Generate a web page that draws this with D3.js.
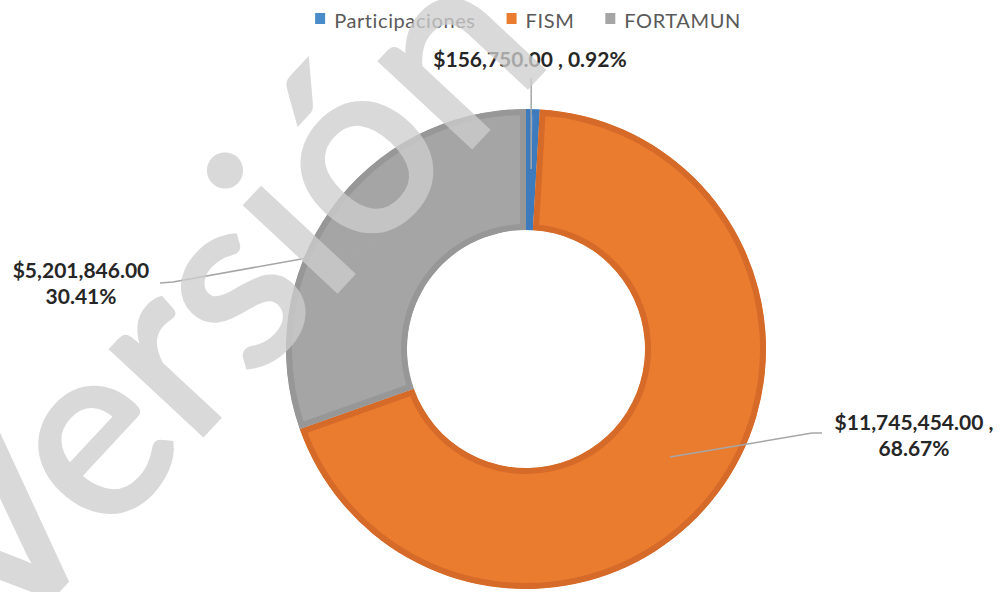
<!DOCTYPE html>
<html>
<head>
<meta charset="utf-8">
<script src="https://cdn.jsdelivr.net/npm/d3@7"></script>
<style>
  body { margin: 0; background: #fff; }
  svg { display: block; }
</style>
</head>
<body>
<svg id="chart" width="1002" height="592"></svg>
<script>
// data
const categories = ["Participaciones", "FISM", "FORTAMUN"];
const values = [156750.00, 11745454.00, 5201846.00];
const fills = ["#4a8bca", "#ea7c30", "#a5a5a5"];
const borders = ["#3d7bbd", "#d56a29", "#979797"];
const watermark = "Versión Pública";

const w = 1002, h = 592;
const cx = 526, cy = 349;
const outerR = 240, innerR = 119, leaderR = 180;

const svg = d3.select("#chart");
const total = d3.sum(values);
const money = v => "$" + d3.format(",.2f")(v);
const pct = d3.format(".2%");

// label lines and where they sit relative to the slice
let labelText = [
    (v) => [money(v) + " , " + pct(v / total)],
    (v) => [money(v) + " ,", pct(v / total)],
    (v) => [money(v), pct(v / total)]
];
let labelPos = [
    { x: 530, y: 67, leader: (p) => [p, [p[0], 78]] },
    { x: 914, y: 430, leader: (p) => [p, [812, 433], [822, 433]] },
    { x: 81, y: 278, leader: (p) => [p, [173, 282], [160, 283]] }
];

const pie = d3.pie().sort(null).value(d => d)(values);
const arc = d3.arc().innerRadius(innerR).outerRadius(outerR);

const g = svg.append("g").attr("transform", `translate(${cx},${cy})`);
const defs = svg.append("defs");

pie.forEach(function (d, i) {
    defs.append("clipPath")
        .attr("id", "clip" + i)
        .append("path")
        .attr("d", arc(d));
});

// slices, border drawn as clipped stroke so it sits inside the slice
g.selectAll("path.slice")
    .data(pie)
    .enter()
    .append("path")
    .attr("class", "slice")
    .attr("d", arc)
    .attr("fill", (d, i) => fills[i])
    .attr("stroke", (d, i) => borders[i])
    .attr("stroke-width", 12)
    .attr("clip-path", (d, i) => "url(#clip" + i + ")");

// leader lines
const polar = (a, r) => [cx + Math.sin(a) * r, cy - Math.cos(a) * r];
pie.forEach(function (d, i) {
    let mid = (d.startAngle + d.endAngle) / 2;
    let pts = labelPos[i].leader(polar(mid, leaderR));
    svg.append("path")
        .attr("d", d3.line()(pts))
        .attr("fill", "none")
        .attr("stroke", "#a6a6a6")
        .attr("stroke-width", 1.5);
});

// value labels
pie.forEach(function (d, i) {
    let t = svg.append("text")
        .attr("x", labelPos[i].x)
        .attr("y", labelPos[i].y)
        .attr("text-anchor", "middle")
        .style("font-family", "Lato, sans-serif")
        .style("font-weight", 700)
        .style("font-size", "21px")
        .style("fill", "#262626");
    labelText[i](d.data).forEach(function (line, j) {
        t.append("tspan")
            .attr("x", labelPos[i].x)
            .attr("dy", j == 0 ? 0 : 26)
            .text(line);
    });
});

// legend
const legend = svg.append("g").attr("class", "legend");
let lx = 0;
categories.forEach(function (c, i) {
    legend.append("rect")
        .attr("x", lx)
        .attr("y", 13)
        .attr("width", 10)
        .attr("height", 11)
        .attr("fill", fills[i]);
    let t = legend.append("text")
        .attr("x", lx + 19)
        .attr("y", 28)
        .style("font-family", "Lato, sans-serif")
        .style("font-size", "20px")
        .style("letter-spacing", "0.6px")
        .style("fill", "#595959")
        .text(c);
    lx += 19 + t.node().getComputedTextLength() + 31;
});
let lw = lx - 31;
legend.attr("transform", `translate(${528 - lw / 2},0)`);

// watermark over everything
svg.append("text")
    .attr("transform", "translate(2,650) rotate(-47)")
    .style("font-family", "Lato, sans-serif")
    .style("font-size", "246px")
    .style("fill", "#cecece")
    .style("stroke", "#cecece")
    .style("stroke-width", 5)
    .style("opacity", 0.77)
    .text(watermark);
</script>
</body>
</html>
